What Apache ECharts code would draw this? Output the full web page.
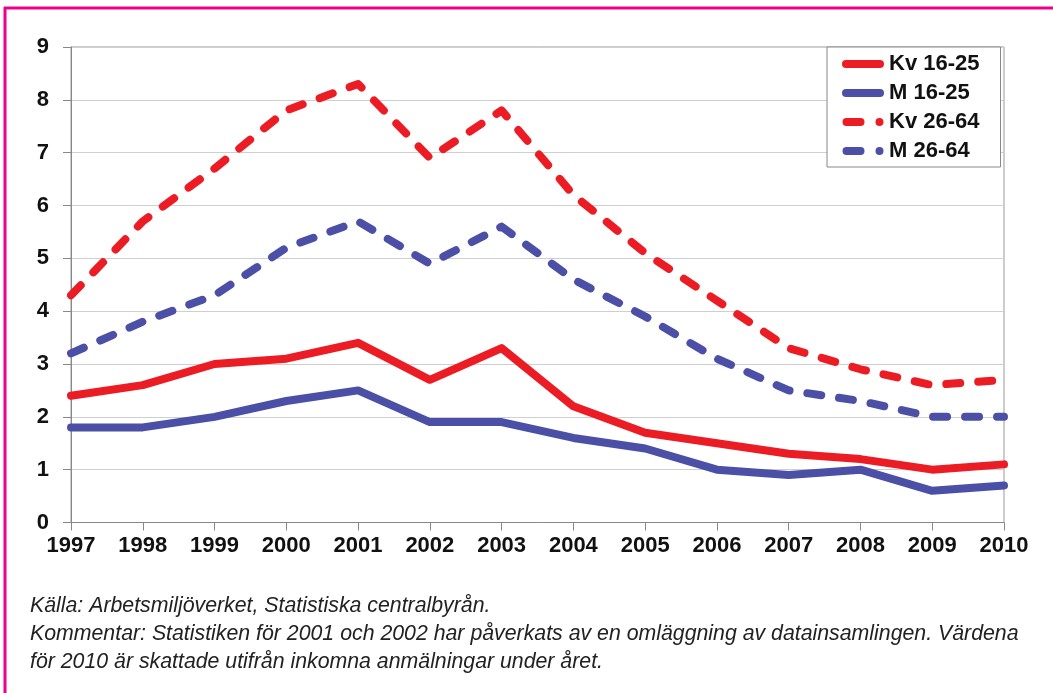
<!DOCTYPE html>
<html>
<head>
<meta charset="utf-8">
<script src="https://cdn.jsdelivr.net/npm/echarts@6/dist/echarts.min.js"></script>
<style>
html,body{margin:0;padding:0;background:#fff;}
#c{width:1053px;height:693px;}
</style>
</head>
<body>
<div id="c"></div>
<script>
const years = ['1997','1998','1999','2000','2001','2002','2003','2004','2005','2006','2007','2008','2009','2010'];
const yTicks = [0,1,2,3,4,5,6,7,8,9];
const kv1625 = [2.4,2.6,3.0,3.1,3.4,2.7,3.3,2.2,1.7,1.5,1.3,1.2,1.0,1.1];
const m1625  = [1.8,1.8,2.0,2.3,2.5,1.9,1.9,1.6,1.4,1.0,0.9,1.0,0.6,0.7];
const kv2664 = [4.3,5.7,6.7,7.8,8.3,6.9,7.8,6.2,5.1,4.2,3.3,2.9,2.6,2.7];
const m2664  = [3.2,3.8,4.3,5.2,5.7,4.9,5.6,4.6,3.9,3.1,2.5,2.3,2.0,2.0];
const seriesNames = ['Kv 16-25','M 16-25','Kv 26-64','M 26-64'];
const caption = 'Källa: Arbetsmiljöverket, Statistiska centralbyrån.\nKommentar: Statistiken för 2001 och 2002 har påverkats av en omläggning av datainsamlingen. Värdena\nför 2010 är skattade utifrån inkomna anmälningar under året.';

const RED = '#ec1c24', BLUE = '#4b4fa6';
const FONT = '"Liberation Sans", Arial, sans-serif';
const ICON_SOLID = 'path://M4,0 L38,0 A4,4 0 0 1 38,8 L4,8 A4,4 0 0 1 4,0 Z';
const ICON_DASH = 'path://M4,0 L18,0 A4,4 0 0 1 18,8 L4,8 A4,4 0 0 1 4,0 Z M37,0 A4,4 0 1 1 37,8 A4,4 0 1 1 37,0 Z';

const chart = echarts.init(document.getElementById('c'), null, {renderer:'canvas'});
function mk(name, data, color, dashed){
  return {
    name, type:'line', data, symbol:'none', smooth:false,
    lineStyle:{color, width:8, type: dashed ? [14,18] : 'solid', cap:'round', join:'round'},
    itemStyle:{color},
    z: dashed ? 3 : 4
  };
}
chart.setOption({
  animation:false,
  backgroundColor:'#fff',
  grid:{left:71, right:49, top:47, bottom:170.5, show:true, borderColor:'#999', borderWidth:1, backgroundColor:'transparent'},
  xAxis:{
    type:'category', data:years, boundaryGap:false,
    axisLine:{lineStyle:{color:'#888', width:1}},
    axisTick:{show:true, length:8, lineStyle:{color:'#888'}},
    axisLabel:{color:'#111', fontFamily:FONT, fontWeight:'bold', fontSize:22, margin:12},
    splitLine:{show:false}
  },
  yAxis:{
    type:'value', min:yTicks[0], max:yTicks[yTicks.length-1], interval:1,
    axisLine:{show:true, lineStyle:{color:'#888', width:1}},
    axisTick:{show:true, length:8, lineStyle:{color:'#888'}},
    axisLabel:{color:'#111', fontFamily:FONT, fontWeight:'bold', fontSize:22, margin:22},
    splitLine:{show:true, lineStyle:{color:'#cfcfcf', width:1}}
  },
  legend:{
    orient:'vertical', left:827, top:47,
    data:[
      {name:seriesNames[0], icon:ICON_SOLID},
      {name:seriesNames[1], icon:ICON_SOLID},
      {name:seriesNames[2], icon:ICON_DASH},
      {name:seriesNames[3], icon:ICON_DASH}
    ],
    backgroundColor:'#fff', borderColor:'#888', borderWidth:1,
    padding:[6,21,5,15],
    itemWidth:42, itemHeight:8, itemGap:7,
    textStyle:{color:'#111', fontFamily:FONT, fontWeight:'bold', fontSize:22, lineHeight:22},
    selectedMode:false
  },
  series:[
    mk(seriesNames[2], kv2664, RED, true),
    mk(seriesNames[3], m2664, BLUE, true),
    mk(seriesNames[0], kv1625, RED, false),
    mk(seriesNames[1], m1625, BLUE, false)
  ],
  graphic:[
    {type:'line', shape:{x1:4, y1:8, x2:1053, y2:8}, style:{stroke:'#ec008c', lineWidth:3}, silent:true},
    {type:'line', shape:{x1:5, y1:7, x2:5, y2:693}, style:{stroke:'#ec008c', lineWidth:3}, silent:true},
    {type:'text', left:30, top:592, silent:true,
     style:{text:caption, font:'italic 21.3px "Liberation Sans", Arial, sans-serif', fill:'#222', lineHeight:28}}
  ]
});
</script>
</body>
</html>
